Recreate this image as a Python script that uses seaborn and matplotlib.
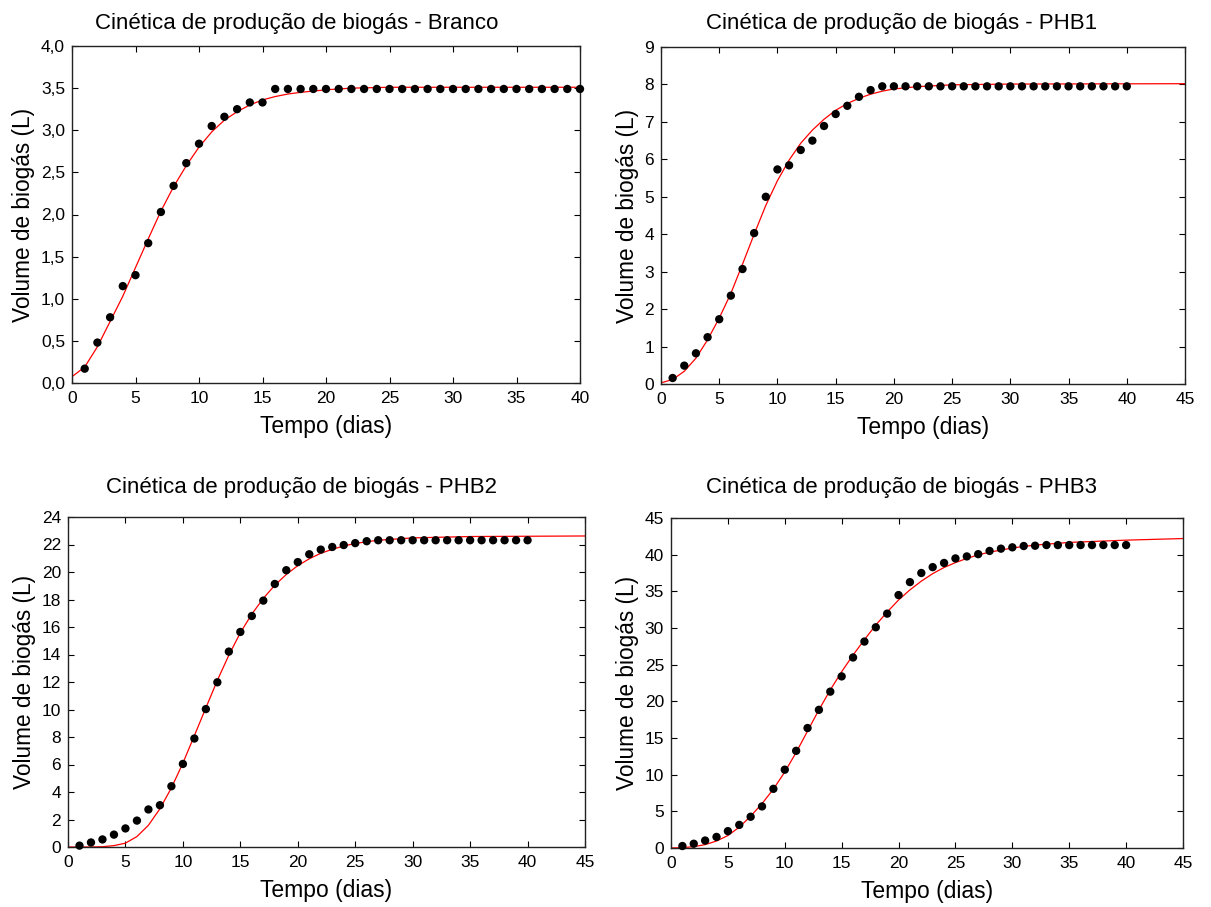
import matplotlib
matplotlib.use("Agg")
import matplotlib.pyplot as plt
import seaborn as sns
import pandas as pd
from matplotlib.ticker import FuncFormatter, MultipleLocator

sns.set_theme(style="white")
plt.rcParams['font.family'] = ['Liberation Sans', 'DejaVu Sans']
plt.rcParams['text.color'] = 'black'
plt.rcParams['axes.labelcolor'] = 'black'
plt.rcParams['xtick.color'] = 'black'
plt.rcParams['ytick.color'] = 'black'

days = list(range(1, 41))

# Measured points (L)
branco_obs = [0.17, 0.48, 0.78, 1.15, 1.28, 1.66, 2.03, 2.34, 2.61, 2.84,
              3.05, 3.16, 3.25, 3.33, 3.33] + [3.49] * 25
phb1_obs = [0.16, 0.49, 0.82, 1.25, 1.73, 2.36, 3.07, 4.03, 5.00, 5.73,
            5.84, 6.25, 6.50, 6.89, 7.21, 7.43, 7.67, 7.85] + [7.95] * 22
phb2_obs = [0.10, 0.33, 0.55, 0.90, 1.35, 1.92, 2.73, 3.04, 4.42, 6.04,
            7.89, 10.03, 11.98, 14.21, 15.64, 16.80, 17.92, 19.13, 20.13, 20.72,
            21.29, 21.63, 21.82, 21.96, 22.10, 22.24] + [22.31] * 14
phb3_obs = [0.27, 0.58, 1.02, 1.51, 2.30, 3.15, 4.26, 5.67, 8.07, 10.68,
            13.25, 16.36, 18.84, 21.32, 23.40, 25.98, 28.15, 30.10, 31.96, 34.49,
            36.26, 37.50, 38.30, 38.87, 39.49, 39.76, 40.07, 40.51, 40.82, 41.00,
            41.18, 41.22] + [41.31] * 8

# Fitted curves
branco_fit_t = [0, 1, 2, 3, 4, 5, 6, 7, 8, 9, 10, 11, 12, 13, 14, 15, 16, 17, 18, 20, 22, 25, 30, 40]
branco_fit_v = [0.075, 0.19, 0.43, 0.73, 1.03, 1.37, 1.71, 2.04, 2.33, 2.58, 2.80, 2.98, 3.12, 3.22,
                3.30, 3.36, 3.40, 3.43, 3.45, 3.48, 3.50, 3.51, 3.51, 3.51]
phb1_fit_t = [0, 1, 2, 3, 4, 5, 6, 7, 8, 9, 10, 11, 12, 13, 14, 15, 16, 17, 18, 19, 20, 22, 25, 30, 45]
phb1_fit_v = [0.03, 0.12, 0.34, 0.69, 1.18, 1.76, 2.42, 3.20, 4.00, 4.77, 5.43, 5.98, 6.43, 6.78,
              7.07, 7.31, 7.49, 7.63, 7.74, 7.82, 7.88, 7.94, 7.99, 8.01, 8.02]
phb2_fit_t = [0, 2, 3, 4, 5, 6, 7, 8, 9, 10, 11, 12, 13, 14, 15, 16, 17, 18, 19, 20, 21, 22, 23, 24,
              25, 27, 30, 35, 45]
phb2_fit_v = [0.0, 0.0, 0.02, 0.10, 0.28, 0.76, 1.58, 2.78, 4.30, 6.10, 8.10, 10.12, 12.12, 13.95,
              15.58, 16.94, 18.08, 19.04, 19.82, 20.46, 20.96, 21.36, 21.65, 21.89, 22.08, 22.31,
              22.48, 22.58, 22.62]
phb3_fit_t = [0, 1, 2, 3, 4, 5, 6, 7, 8, 9, 10, 11, 12, 13, 14, 15, 16, 17, 18, 19, 20, 21, 22, 23,
              24, 25, 26, 27, 28, 30, 32, 35, 40, 45]
phb3_fit_v = [0.0, 0.05, 0.18, 0.46, 0.95, 1.70, 2.84, 4.34, 6.05, 8.03, 10.37, 13.03, 15.94, 18.84,
              21.56, 24.04, 26.31, 28.41, 30.40, 32.18, 33.82, 35.20, 36.39, 37.41, 38.25, 38.92,
              39.49, 39.98, 40.34, 40.91, 41.31, 41.67, 41.98, 42.20]

titles = ["Cinética de produção de biogás - Branco", "Cinética de produção de biogás - PHB1",
          "Cinética de produção de biogás - PHB2", "Cinética de produção de biogás - PHB3"]

W, H = 1211, 907

def rect(l, r, t, b):
    return [l / W, 1 - b / H, (r - l) / W, (b - t) / H]

panels = [
    dict(obs=branco_obs, ft=branco_fit_t, fv=branco_fit_v, xmax=40, ymax=4.0, ystep=0.5, comma=True,
         pos=rect(72, 580, 46, 383), tx=297, ty=29),
    dict(obs=phb1_obs, ft=phb1_fit_t, fv=phb1_fit_v, xmax=45, ymax=9, ystep=1, comma=False,
         pos=rect(661, 1185, 47, 384), tx=902, ty=29),
    dict(obs=phb2_obs, ft=phb2_fit_t, fv=phb2_fit_v, xmax=45, ymax=24, ystep=2, comma=False,
         pos=rect(68, 585, 517, 847), tx=302, ty=493),
    dict(obs=phb3_obs, ft=phb3_fit_t, fv=phb3_fit_v, xmax=45, ymax=45, ystep=5, comma=False,
         pos=rect(671, 1183, 518, 848), tx=901, ty=493),
]

fig = plt.figure(figsize=(W / 100, H / 100), dpi=100)
fig.patch.set_facecolor("white")

for p, title in zip(panels, titles):
    ax = fig.add_axes(p["pos"])
    fit_df = pd.DataFrame({"t": p["ft"], "v": p["fv"]})
    obs_df = pd.DataFrame({"t": days, "v": p["obs"]})
    sns.lineplot(data=fit_df, x="t", y="v", ax=ax, color="#ff0000", linewidth=0.9,
                 estimator=None, sort=True, zorder=2)
    sns.scatterplot(data=obs_df, x="t", y="v", ax=ax, color="black", s=36, edgecolor="none",
                    zorder=3, clip_on=False)
    ax.set_xlim(0, p["xmax"])
    ax.set_ylim(0, p["ymax"])
    ax.xaxis.set_major_locator(MultipleLocator(5))
    ax.yaxis.set_major_locator(MultipleLocator(p["ystep"]))
    if p["comma"]:
        ax.yaxis.set_major_formatter(FuncFormatter(lambda v, pos: f"{v:.1f}".replace(".", ",")))
    else:
        ax.yaxis.set_major_formatter(FuncFormatter(lambda v, pos: f"{v:g}"))
    ax.tick_params(axis="both", which="both", direction="in", length=4, width=0.8,
                   top=True, right=True, bottom=True, left=True, labelsize=12.5,
                   colors="black")
    ax.tick_params(axis="x", pad=6)
    ax.tick_params(axis="y", pad=5)
    for s in ax.spines.values():
        s.set_color("#222222")
        s.set_linewidth(1.0)
    fig.text(p["tx"] / W, 1 - p["ty"] / H, title, fontsize=16, ha="center", va="baseline",
             color="black")
    ax.set_xlabel("Tempo (dias)", fontsize=16.5, labelpad=6, color="black")
    ax.set_ylabel("Volume de biogás (L)", fontsize=16.3, labelpad=4, color="black")
    ax.grid(False)
    ax.set_facecolor("white")

fig.savefig("out.png", dpi=100, facecolor="white")
